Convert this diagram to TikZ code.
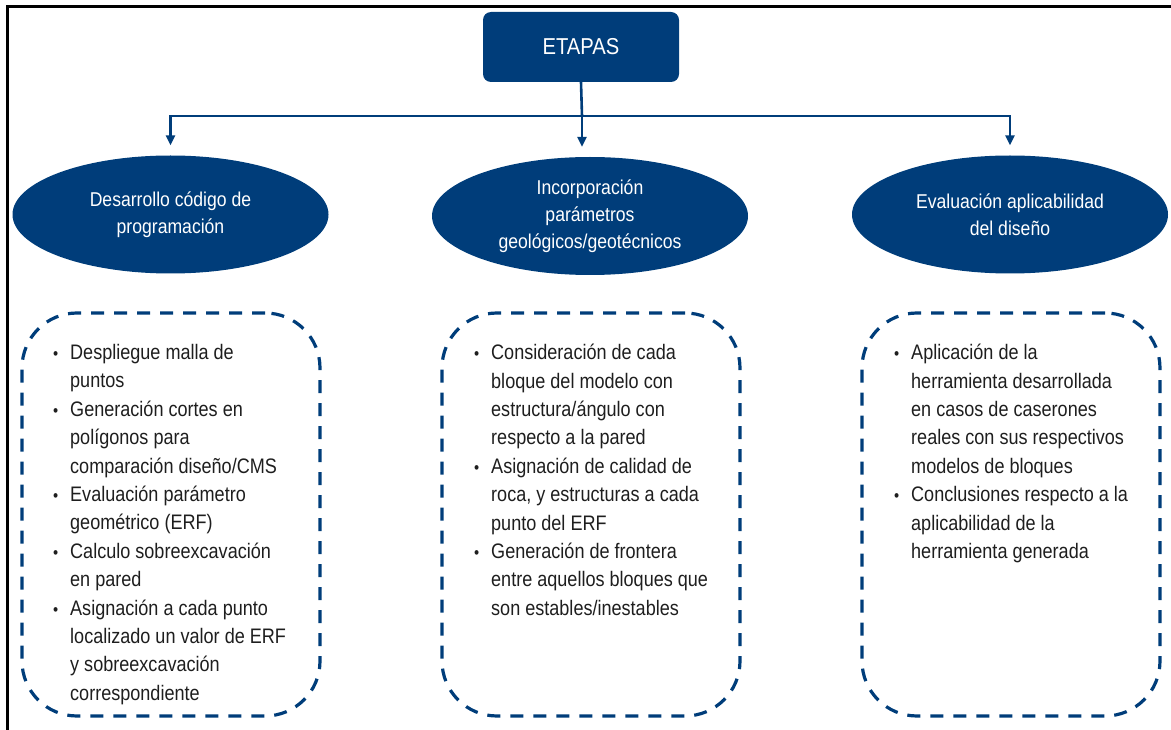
\documentclass[tikz,border=0pt]{standalone}
\usepackage{fontspec}
\setmainfont{Liberation Sans}[FakeStretch=0.88]
\newfontfamily\listafont{Liberation Sans}[FakeStretch=0.86]
\usepackage{tikz}
\usetikzlibrary{arrows.meta,shapes.geometric}
\definecolor{azul}{HTML}{003D7A}
\definecolor{gristexto}{HTML}{1E1E1E}
\newcommand{\punto}{\llap{{\fontsize{17}{17}\selectfont\textbullet}\hspace{12pt}}}

\begin{document}
\begin{tikzpicture}[x=1pt,y=-1pt,
  every node/.style={font=\fontsize{21}{28.4}\selectfont},
  titulo/.style={rectangle,rounded corners=8pt,fill=azul,text=white,
    minimum width=196pt,minimum height=70pt,inner sep=0pt,
    font=\fontsize{23}{27}\selectfont},
  etapa/.style={ellipse,fill=azul,text=white,minimum width=316pt,
    minimum height=118pt,inner sep=0pt,align=center,
    font=\fontsize{20}{27}\selectfont},
  caja/.style={draw=azul,line width=3.2pt,dash pattern=on 13pt off 10pt,
    rounded corners=55pt,minimum width=298pt,minimum height=403pt,inner sep=0pt},
  lista/.style={anchor=north west,align=left,inner sep=0pt,text=gristexto,
    font=\listafont\fontsize{21}{28.4}\selectfont},
  linea/.style={draw=azul,line width=2.6pt},
  flecha/.style={linea,-{Triangle[length=10pt,width=9pt]},shorten >=10pt}]
  \useasboundingbox (0,0) rectangle (1171,730);
  \draw[line width=3pt] (7.5,730) -- (7.5,6.5) -- (1171,6.5);

  \node[titulo] (etapas) at (581,47) {ETAPAS};
  \node[etapa] (fase1) at (170.5,214.5) {Desarrollo código de\\programación};
  \node[etapa] (fase2) at (590,216) {Incorporación\\parámetros\\geológicos/geotécnicos};
  \node[etapa] (fase3) at (1010,214.5) {Evaluación aplicabilidad\\del diseño};

  \coordinate (bus) at (582,116);
  \draw[linea] (etapas.south) -- (bus);
  \foreach \f in {fase1,fase3}
    \draw[flecha] (bus) -| (\f.north);
  \draw[flecha] (bus) -- (bus |- fase2.north);

  \node[caja] (lista1) at (171,514.5) {};
  \node[caja] (lista2) at (591,514.5) {};
  \node[caja] (lista3) at (1011,514.5) {};

  \node[lista] (txt1) at (70,344) {\punto Despliegue malla de\\puntos\\
    \punto Generación cortes en\\polígonos para\\comparación diseño/CMS\\
    \punto Evaluación parámetro\\geométrico (ERF)\\
    \punto Calculo sobreexcavación\\en pared\\
    \punto Asignación a cada punto\\localizado un valor de ERF\\y sobreexcavación\\correspondiente};
  \node[lista] (txt2) at (491,344) {\punto Consideración de cada\\bloque del modelo con\\
    estructura/ángulo con\\respecto a la pared\\
    \punto Asignación de calidad de\\roca, y estructuras a cada\\punto del ERF\\
    \punto Generación de frontera\\entre aquellos bloques que\\son estables/inestables};
  \node[lista] (txt3) at (911,344) {\punto Aplicación de la\\herramienta desarrollada\\
    en casos de caserones\\reales con sus respectivos\\modelos de bloques\\
    \punto Conclusiones respecto a la\\aplicabilidad de la\\herramienta generada};
\end{tikzpicture}
\end{document}
